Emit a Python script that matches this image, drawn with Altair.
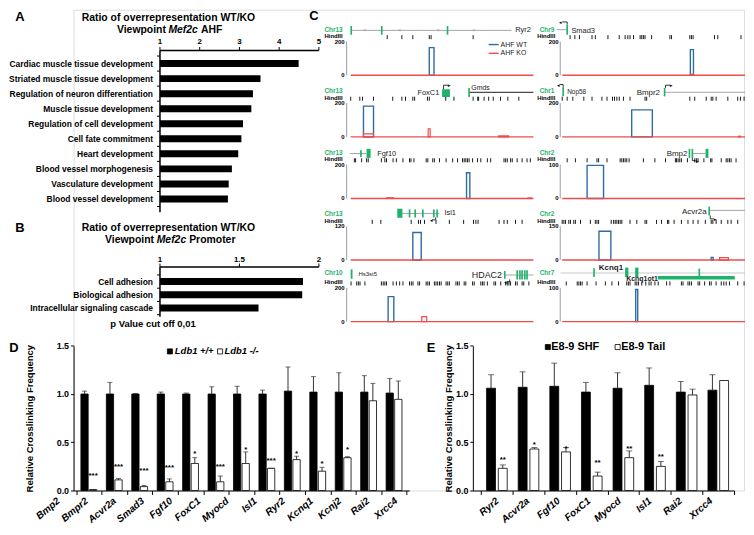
import altair as alt
import pandas as pd

FONT = "Liberation Sans"
BLUE = "#2f6ca3"
RED = "#ef4b4b"
GREEN = "#1fb26a"
GRAY = "#9b9b9b"
INK = "#222222"

# ---------------- Panel A ----------------
a_terms = ["Cardiac muscle tissue development", "Striated muscle tissue development",
           "Regulation of neuron differentiation", "Muscle tissue development",
           "Regulation of cell development", "Cell fate commitment", "Heart development",
           "Blood vessel morphogenesis", "Vasculature development", "Blood vessel development"]
a_ratio = [4.49, 3.53, 3.34, 3.30, 3.09, 3.05, 2.97, 2.81, 2.73, 2.71]
a_ticks = [1, 2, 3, 4, 5]
a_tick_labels = ["1", "2", "3", "4", "5"]

# ---------------- Panel B ----------------
b_terms = ["Cell adhesion", "Biological adhesion", "Intracellular signaling cascade"]
b_ratio = [1.90, 1.895, 1.62]
b_ticks = [1, 1.5, 2]
b_tick_labels = ["1", "1.5", "2"]

# ---------------- Panel C (4C tracks; u = 0..100 along each locus) ----------------
c_chr = {(0, 0): "Chr13", (1, 0): "Chr13", (2, 0): "Chr13", (3, 0): "Chr13", (4, 0): "Chr10",
         (0, 1): "Chr9", (1, 1): "Chr1", (2, 1): "Chr2", (3, 1): "Chr2", (4, 1): "Chr7"}
c_ymax = {(0, 0): 200, (1, 0): 200, (2, 0): 200, (3, 0): 120, (4, 0): 200,
          (0, 1): 200, (1, 1): 200, (2, 1): 100, (3, 1): 150, (4, 1): 100}

hind_r0_c0 = [20, 28, 34, 43, 44, 67]
hind_r1_c0 = [0, 5, 6.5, 12.5, 23, 28, 30, 34, 35, 42, 43, 52, 56.5, 67, 69.5, 70, 73, 75.5, 78, 82, 86, 92]
hind_r2_c0 = [2, 2.7, 6, 8.7, 9.6, 16.8, 18.7, 19.6, 23.2, 25, 28.6, 32.2, 33, 34.6, 41.3, 42.2, 44.9,
              45.8, 48.6, 52.2, 55.8, 58.5, 61.2, 62.1, 63, 63.9, 64.8, 66.7, 69.4, 71.2, 74.8, 76.6,
              83.9, 84.8, 85.7, 87.5, 88.4, 91.1, 93.8, 96.5, 98.3]
hind_r3_c0 = [11.8, 16.5, 33.1, 37.1, 38.2, 40.4, 46.7, 54, 61.8, 67.2, 68.5, 69.7, 81.2, 83.9, 85.7, 90.2, 93.8]
hind_r4_c0 = [0.2, 3.3, 4.2, 5.1, 7.8, 16.8, 17.8, 18.7, 19.6, 23.2, 25, 26.8, 28.6, 32.2, 33.2, 34.1,
              36.8, 37.7, 41.3, 42.2, 43.1, 45.8, 46.7, 47.6, 48.6, 49.5, 52.2, 53.1, 54, 57.6, 58.5,
              59.4, 62.1, 63, 66.7, 67.6, 71.2, 72.1, 73, 74.8, 78.4, 79.3, 82.1, 84.8, 85.7, 86.6,
              87.5, 90.2, 91.1, 93.8, 94.7, 97.5]
hind_r0_c1 = [4.3, 6.9, 9.4, 16.3, 18.1, 25, 31.2, 34.4, 35.9, 37.1, 39, 42.6, 43.5, 44.4, 45.3, 48.9,
              58.9, 59.8, 69.8, 70.7, 71.6, 83.3, 85.1, 97.8]
hind_r1_c1 = [0, 2.7, 5.8, 11.8, 16.3, 21.7, 24.5, 27.5, 28.6, 29.9, 31.2, 33.5, 37.1, 45.3, 46.2, 69.8,
              72.5, 78.8, 81.5, 82.4, 84.2, 90.6, 96, 97.5, 99.5]
hind_r2_c1 = [2.7, 7.2, 13.6, 19, 19.9, 24.5, 31.7, 32.6, 33.5, 34.4, 35.3, 36.6, 44.4, 50.7, 56.5, 61.9,
              62.5, 63.4, 64.3, 65.2, 68.5, 72.5, 73.4, 74.3, 77.5, 81.2, 81.9, 87, 89.7, 90.6, 91.5,
              92.4, 95.1]
hind_r3_c1 = [0, 0.9, 1.8, 3.6, 4.5, 6.3, 7.2, 10, 15.4, 18.1, 19, 19.9, 26.8, 28.1, 29, 29.9, 30.8,
              31.7, 32.6, 37.1, 40.8, 45.3, 46.2, 51.6, 54.3, 57.6, 58.3, 61.2, 65.2, 68.8, 71.6, 74.3,
              78.3, 81.5, 82.4, 84.2, 87, 90.6, 92.4, 96]
hind_r4_c1 = [2.2, 8.2, 9.1, 10, 10.9, 13.6, 18.5, 23.6, 27.2, 30.8, 35.3, 36.2, 37.1, 39.9, 40.8, 41.7,
              43.5, 45.7, 47.5, 48.6, 50.7, 52.5, 57.1, 58.9, 65.2, 66.1, 68.8, 69.7, 70.7, 74.3, 75.2,
              77.9, 80.6, 81.5, 84.2, 87, 88.4, 89.7, 91.5, 96, 99.5]
c_hind = {(0, 0): hind_r0_c0, (1, 0): hind_r1_c0, (2, 0): hind_r2_c0, (3, 0): hind_r3_c0, (4, 0): hind_r4_c0,
          (0, 1): hind_r0_c1, (1, 1): hind_r1_c1, (2, 1): hind_r2_c1, (3, 1): hind_r3_c1, (4, 1): hind_r4_c1}

# WT (AHF WT) and KO (AHF KO) interaction peaks: (start, end, reads)
c_wt = {(0, 0): [(43.0, 45.6, 164)], (1, 0): [(7.0, 12.5, 182)], (2, 0): [(63.4, 65.2, 152)],
        (3, 0): [(34.0, 38.6, 98)], (4, 0): [(20.5, 23.6, 148)], (0, 1): [(70.1, 71.8, 152)],
        (1, 1): [(38.0, 49.3, 160)], (2, 1): [(13.6, 22.6, 98)],
        (3, 1): [(20.1, 26.6, 128), (81.5, 82.6, 12)], (4, 1): [(40.2, 41.3, 95)]}
c_ko = {(1, 0): [(7.0, 12.5, 18), (42.4, 43.5, 48), (81.0, 86.4, 6)],
        (2, 0): [(19.6, 23.4, 4), (97.0, 99.0, 3)], (4, 0): [(38.9, 41.6, 30)],
        (0, 1): [(70.1, 71.8, 6)], (1, 1): [(96.5, 97.5, 4)], (3, 1): [(86.1, 90.9, 10.5)]}

# gene models
gene_lines = [  # row, col, u1, v1, u2, v2, colour, width
    (0, 0, 0, 1.33, 88, 1.33, GRAY, 0.9), (1, 0, 64.8, 1.32, 100, 1.32, "black", 0.9),
    (2, 0, -0.5, 1.33, 8.7, 1.33, GRAY, 0.9), (3, 0, 25.5, 1.38, 48.6, 1.38, GRAY, 0.9),
    (4, 0, 83.9, 1.38, 100, 1.38, GRAY, 0.9), (0, 1, -3, 1.35, 2.7, 1.35, GRAY, 0.9),
    (1, 1, 56, 1.32, 100, 1.32, GRAY, 0.9), (2, 1, 71.2, 1.33, 78.4, 1.33, GRAY, 0.9),
    (3, 1, 80.4, 1.47, 100, 1.47, GRAY, 0.9), (4, 1, -1, 1.44, 100, 1.44, "#c4c4c4", 0.9),
    (4, 1, 52.3, 1.30, 94.4, 1.30, GREEN, 3.5),
    # transcription start arrows
    (1, 0, 50.8, 1.41, 50.8, 1.53, "black", 0.8), (1, 0, 50.8, 1.53, 53.5, 1.53, "black", 0.8),
    (3, 0, 46.5, 1.26, 46.5, 1.19, "black", 0.8), (3, 0, 46.5, 1.19, 44.5, 1.19, "black", 0.8),
    (4, 0, 87, 1.25, 87, 1.18, "black", 0.8), (4, 0, 87, 1.18, 85.5, 1.18, "black", 0.8),
    (0, 1, 2.7, 1.5, 2.7, 1.58, "black", 0.8), (0, 1, 2.7, 1.58, 0, 1.58, "black", 0.8),
    (1, 1, 0.5, 1.45, 0.5, 1.55, "black", 0.8), (1, 1, 0.5, 1.55, -1.5, 1.55, "black", 0.8),
    (1, 1, 56.5, 1.45, 56.5, 1.53, "black", 0.8), (1, 1, 56.5, 1.53, 59, 1.53, "black", 0.8),
    (2, 1, 71.2, 1.2, 71.2, 1.12, "black", 0.8), (2, 1, 71.2, 1.12, 73, 1.12, "black", 0.8),
    (3, 1, 81, 1.32, 81, 1.22, "black", 0.8), (3, 1, 81, 1.22, 83, 1.22, "black", 0.8),
    # legend
    (0, 0, 75.5, 0.91, 81, 0.91, BLUE, 1.4), (0, 0, 75.5, 0.65, 81, 0.65, RED, 1.4),
]
arrow_tips = [  # row, col, u, v, glyph
    (1, 0, 54.2, 1.53, "▸"), (3, 0, 44.0, 1.19, "◂"), (4, 0, 84.6, 1.18, "◂"),
    (0, 1, -0.8, 1.58, "◂"), (1, 1, -2.3, 1.55, "◂"), (1, 1, 59.8, 1.53, "▸"),
    (2, 1, 73.8, 1.12, "▸"), (3, 1, 83.8, 1.22, "▸")]
exon_ticks = [  # row, col, u, v1, v2  (thin exons)
    (0, 0, 0.3, 1.2, 1.46), (0, 0, 17, 1.2, 1.46), (0, 0, 53, 1.2, 1.46), (1, 0, 64.8, 1.18, 1.45),
    (2, 0, 5.6, 1.23, 1.43), (3, 0, 32.2, 1.26, 1.5), (3, 0, 35.3, 1.26, 1.5), (3, 0, 39.5, 1.26, 1.5),
    (3, 0, 45.5, 1.26, 1.5), (3, 0, 47.3, 1.26, 1.5), (4, 0, 84.3, 1.27, 1.5), (4, 0, 91.1, 1.25, 1.52),
    (4, 0, 92.6, 1.25, 1.52), (4, 0, 93.8, 1.25, 1.52), (4, 0, 95.3, 1.25, 1.52), (4, 0, 96.5, 1.25, 1.52),
    (0, 1, 2.7, 1.2, 1.5), (1, 1, 0.5, 1.2, 1.45), (1, 1, 56, 1.2, 1.45), (2, 1, 69.6, 1.2, 1.47),
    (2, 1, 71.2, 1.2, 1.47), (3, 1, 80.4, 1.32, 1.58), (4, 1, 17.4, 1.32, 1.58), (4, 1, 75, 1.3, 1.57)]
exon_boxes = [  # row, col, u1, u2, v1, v2
    (1, 0, 50, 54.3, 1.18, 1.41), (2, 0, 8.7, 10.9, 1.2, 1.47), (3, 0, 25.5, 28.3, 1.25, 1.52),
    (4, 0, 0, 1.0, 1.27, 1.55), (2, 1, 78.4, 80, 1.2, 1.47), (4, 1, 34.4, 36.2, 1.32, 1.6),
    (4, 1, 39.9, 41.7, 1.32, 1.6)]
gene_text = [  # row, col, u, v, text, size, align, weight
    (0, 0, 90, 1.35, "Ryr2", 7.5, "left", "normal"), (1, 0, 48.5, 1.29, "FoxC1", 7.5, "right", "normal"),
    (1, 0, 66, 1.44, "Gmds", 7, "left", "normal"), (2, 0, 14.5, 1.33, "Fgf10", 7.5, "left", "normal"),
    (3, 0, 51.3, 1.38, "Isl1", 7.5, "left", "normal"), (4, 0, 4.3, 1.41, "Hs3st5", 6, "left", "normal"),
    (4, 0, 82.8, 1.38, "HDAC2", 9, "right", "normal"), (0, 1, 5.0, 1.32, "Smad3", 7.5, "left", "normal"),
    (1, 1, 2.7, 1.32, "Nop58", 6.5, "left", "normal"), (1, 1, 53.5, 1.30, "Bmpr2", 8, "right", "normal"),
    (2, 1, 68.5, 1.32, "Bmp2", 8, "right", "normal"), (3, 1, 79, 1.41, "Acvr2a", 8, "right", "normal"),
    (4, 1, 20, 1.6, "Kcnq1", 8, "left", "bold"), (4, 1, 35, 1.25, "Kcnq1ot1", 7, "left", "bold"),
    (0, 0, 82, 0.91, "AHF WT", 7, "left", "normal"), (0, 0, 82, 0.65, "AHF KO", 7, "left", "normal")]
ryr2_arrowheads = [7.6, 26.6, 47.8, 67.4]

# ---------------- Panel D ----------------
d_genes = ["Bmp2", "Bmpr2", "Acvr2a", "Smad3", "Fgf10", "FoxC1", "Myocd", "Isl1", "Ryr2",
           "Kcnq1", "Kcnj2", "Rai2", "Xrcc4"]
d_wt = [1.00, 1.00, 1.00, 1.00, 1.00, 1.00, 1.00, 1.00, 1.03, 1.02, 1.02, 1.02, 1.01]
d_wt_err = [0.03, 0.12, 0.005, 0.02, 0.01, 0.075, 0.08, 0.04, 0.25, 0.16, 0.20, 0.17, 0.15]
d_ko = [0.01, 0.11, 0.04, 0.09, 0.28, 0.09, 0.28, 0.23, 0.32, 0.20, 0.34, 0.93, 0.945]
d_ko_err = [0.0, 0.015, 0.012, 0.03, 0.06, 0.06, 0.12, 0.0, 0.035, 0.04, 0.01, 0.18, 0.19]
d_stars = ["***", "***", "***", "***", "*", "***", "*", "***", "*", "*", "*", "", ""]
d_star_y = [0.15, 0.24, 0.20, 0.23, 0.38, 0.24, 0.42, 0.31, 0.38, 0.27, 0.42, 0, 0]

# ---------------- Panel E ----------------
e_genes = ["Ryr2", "Acvr2a", "Fgf10", "FoxC1", "Myocd", "Isl1", "Rai2", "Xrcc4"]
e_shf = [1.06, 1.07, 1.08, 1.02, 1.06, 1.09, 1.02, 1.04]
e_shf_err = [0.14, 0.16, 0.24, 0.10, 0.16, 0.18, 0.11, 0.16]
e_tail = [0.23, 0.43, 0.40, 0.15, 0.34, 0.25, 0.99, 1.14]
e_tail_err = [0.035, 0.015, 0.045, 0.04, 0.07, 0.05, 0.06, 0.0]
e_stars = ["**", "*", "*", "**", "**", "**", "", ""]
e_star_y = [0.32, 0.475, 0.43, 0.28, 0.435, 0.35, 0, 0]

ONE = pd.DataFrame({"k": [0]})
W, H = 675, 484          # one shared canvas; each panel gets its own scale ranges
DT = 338.3               # top of the D/E plot areas


def note(text, x, y, size, weight="bold", style="normal", align="center", color="black"):
    return alt.Chart(ONE).mark_text(text=text, font=FONT, fontSize=size, fontWeight=weight,
                                    fontStyle=style, align=align, baseline="middle",
                                    color=color).encode(x=alt.value(x), y=alt.value(y))


def square(x, y, fill):
    return alt.Chart(ONE).mark_square(size=26, fill=fill, stroke="black", strokeWidth=0.8,
                                      opacity=1).encode(x=alt.value(x), y=alt.value(y))


# ======================= A + B =======================
def go_panel(terms, ratios, ticks, tick_labels, xdom, yrange, axis_y, lab_y, vline_end):
    n = len(terms)
    df = pd.DataFrame({"term": terms, "ratio": ratios, "idx": list(range(n)), "base": [xdom[0]] * n})
    xs = alt.Scale(domain=xdom, range=[87, 247], nice=False, zero=False)
    ys = alt.Scale(domain=[-0.5, n - 0.5], range=yrange, nice=False, zero=False)
    bars = alt.Chart(df).mark_bar(color="black", size=7).encode(
        x=alt.X("base:Q", scale=xs, axis=None), x2="ratio", y=alt.Y("idx:Q", scale=ys, axis=None))
    labels = alt.Chart(df).mark_text(align="right", baseline="middle", dx=-7, font=FONT, fontSize=8.5,
                                     fontWeight="bold", color="black").encode(
        x=alt.X("base:Q", scale=xs, axis=None), y=alt.Y("idx:Q", scale=ys, axis=None), text="term:N")
    tdf = pd.DataFrame({"t": ticks, "lab": tick_labels})
    tmarks = alt.Chart(tdf).mark_rule(color="black", strokeWidth=1).encode(
        x=alt.X("t:Q", scale=xs, axis=None), y=alt.value(axis_y - 3.5), y2=alt.value(axis_y))
    tlabs = alt.Chart(tdf).mark_text(font=FONT, fontSize=8, fontWeight="bold", baseline="middle",
                                     color="black").encode(
        x=alt.X("t:Q", scale=xs, axis=None), y=alt.value(lab_y), text="lab:N")
    edf = pd.DataFrame({"lo": [xdom[0]], "hi": [xdom[1]]})
    hline = alt.Chart(edf).mark_rule(color="black", strokeWidth=1.5).encode(
        x=alt.X("lo:Q", scale=xs, axis=None), x2="hi", y=alt.value(axis_y))
    vline = alt.Chart(edf).mark_rule(color="black", strokeWidth=1.5).encode(
        x=alt.X("lo:Q", scale=xs, axis=None), y=alt.value(axis_y), y2=alt.value(vline_end))
    bdf = pd.DataFrame({"b": [i - 0.5 for i in range(n + 1)]})
    yt = alt.Chart(bdf).mark_rule(color="black", strokeWidth=1).encode(
        x=alt.value(84), x2=alt.value(87), y=alt.Y("b:Q", scale=ys, axis=None))
    return alt.layer(bars, labels, tmarks, tlabs, hline, vline, yt)


panelA = go_panel(a_terms, a_ratio, a_ticks, a_tick_labels, [1, 5], [41.6, 203.1], 41, 32, 204)
panelB = go_panel(b_terms, b_ratio, b_ticks, b_tick_labels, [1, 2], [262, 312], 259, 251.5, 309)

ab_notes = [
    note("A", -54, 7.5, 13),
    note("Ratio of overrepresentation WT/KO", 95.5, 8, 10.5),
    note("Viewpoint", 93, 20, 10.5, align="right"),
    note("Mef2c", 95.5, 20, 10.5, style="italic", align="left"),
    note("AHF", 128.2, 20, 10.5, align="left"),
    note("B", -54, 220, 13),
    note("Ratio of overrepresentation WT/KO", 95.5, 220, 10.5),
    note("Viewpoint", 81, 231.5, 10.5, align="right"),
    note("Mef2c", 83.7, 231.5, 10.5, style="italic", align="left"),
    note("Promoter", 116.4, 231.5, 10.5, align="left"),
    note("p Value cut off 0,01", 80, 316, 9.5),
    note("C", 242, 6, 13),
]

# ======================= C =======================
COL_OFF = 115.76
ROW_OFF = 1.8235
xC = alt.Scale(domain=[-9.24, 215.22], range=[262, 675], nice=False, zero=False)
yC = alt.Scale(domain=[-8.0, 1.941], range=[338, 0], nice=False, zero=False)


def X(u, c):
    return u + c * COL_OFF


def Y(v, r):
    return v - r * ROW_OFF


def cx(f):
    return alt.X(f + ":Q", scale=xC, axis=None)


def cy(f):
    return alt.Y(f + ":Q", scale=yC, axis=None)


axis_u = [-2.2, -1.1]
numlab_u = [-3.3, -2.0]
hindlab_u = [-4.4, -3.8]
chrlab_u = [-4.4, -4.3]

r_axis, r_tick, r_base, r_wt, r_ko, r_side = [], [], [], [], [], []
for (r, c), ymax in c_ymax.items():
    r_axis.append({"x": X(axis_u[c], c), "y": Y(0, r), "y2": Y(1, r)})
    r_base.append({"x": X(0, c), "x2": X(100, c), "y": Y(0, r)})
    for u in c_hind[(r, c)]:
        r_tick.append({"x": X(u, c), "y": Y(1.07, r), "y2": Y(1.19, r)})
    for (u1, u2, n) in c_wt.get((r, c), []):
        r_wt.append({"x": X(u1, c), "x2": X(u2, c), "y": Y(0, r), "y2": Y(n / ymax, r)})
    for (u1, u2, n) in c_ko.get((r, c), []):
        r_ko.append({"x": X(u1, c), "x2": X(u2, c), "y": Y(0, r), "y2": Y(n / ymax, r)})
    chr_v = 1.43 if r == 4 else 1.35
    r_side += [
        {"x": X(numlab_u[c], c), "y": Y(1.0, r), "t": str(ymax), "col": "black", "fs": 6},
        {"x": X(numlab_u[c], c), "y": Y(0.0, r), "t": "0", "col": "black", "fs": 6},
        {"x": X(hindlab_u[c], c), "y": Y(1.16, r), "t": "HindIII", "col": "black", "fs": 6},
        {"x": X(chrlab_u[c], c), "y": Y(chr_v, r), "t": c_chr[(r, c)], "col": GREEN, "fs": 6.5},
    ]

df_seg = pd.DataFrame([{"x": X(u1, c), "y": Y(v1, r), "x2": X(u2, c), "y2": Y(v2, r), "col": col, "w": w}
                       for (r, c, u1, v1, u2, v2, col, w) in gene_lines])
df_tip = pd.DataFrame([{"x": X(u, c), "y": Y(v, r), "g": g} for (r, c, u, v, g) in arrow_tips])
df_exon = pd.DataFrame([{"x": X(u - 0.45, c), "x2": X(u + 0.45, c), "y": Y(v1, r), "y2": Y(v2, r)}
                        for (r, c, u, v1, v2) in exon_ticks] +
                       [{"x": X(u1, c), "x2": X(u2, c), "y": Y(v1, r), "y2": Y(v2, r)}
                        for (r, c, u1, u2, v1, v2) in exon_boxes])
df_arrowhead = pd.DataFrame({"x": [X(u, 0) for u in ryr2_arrowheads], "y": [Y(1.33, 0)] * len(ryr2_arrowheads)})

c_layers = [
    alt.Chart(pd.DataFrame(r_axis)).mark_rule(color=GRAY, strokeWidth=1).encode(x=cx("x"), y=cy("y"), y2="y2"),
    alt.Chart(pd.DataFrame(r_tick)).mark_rule(color="black", strokeWidth=0.9).encode(x=cx("x"), y=cy("y"), y2="y2"),
    alt.Chart(df_seg).mark_rule().encode(x=cx("x"), y=cy("y"), x2="x2", y2="y2",
                                         color=alt.Color("col:N", scale=None),
                                         strokeWidth=alt.StrokeWidth("w:Q", scale=None)),
    alt.Chart(df_exon).mark_rect(color=GREEN).encode(x=cx("x"), x2="x2", y=cy("y"), y2="y2"),
    alt.Chart(df_tip).mark_text(color="black", fontSize=5, baseline="middle").encode(
        x=cx("x"), y=cy("y"), text="g:N"),
    alt.Chart(df_arrowhead).mark_text(text="<", color=GRAY, fontSize=6, baseline="middle",
                                      font=FONT).encode(x=cx("x"), y=cy("y")),
    alt.Chart(pd.DataFrame(r_side)).mark_text(align="right", baseline="middle", fontWeight="bold",
                                              font=FONT).encode(
        x=cx("x"), y=cy("y"), text="t:N", color=alt.Color("col:N", scale=None),
        size=alt.Size("fs:Q", scale=None)),
]
for al in ["left", "right"]:
    for wt in ["normal", "bold"]:
        rows = [{"x": X(u, c), "y": Y(v, r), "t": t, "fs": s}
                for (r, c, u, v, t, s, a, w) in gene_text if a == al and w == wt]
        if rows:
            c_layers.append(alt.Chart(pd.DataFrame(rows)).mark_text(
                align=al, baseline="middle", fontWeight=wt, font=FONT, color=INK).encode(
                x=cx("x"), y=cy("y"), text="t:N", size=alt.Size("fs:Q", scale=None)))
c_layers += [
    alt.Chart(pd.DataFrame(r_wt)).mark_rect(filled=False, color=BLUE, strokeWidth=1.4).encode(
        x=cx("x"), x2="x2", y=cy("y"), y2="y2"),
    alt.Chart(pd.DataFrame(r_ko)).mark_rect(filled=False, color=RED, strokeWidth=1.2).encode(
        x=cx("x"), x2="x2", y=cy("y"), y2="y2"),
    alt.Chart(pd.DataFrame(r_base)).mark_rule(color=RED, strokeWidth=1.4).encode(
        x=cx("x"), x2="x2", y=cy("y")),
]
panelC = alt.layer(*c_layers)

# ======================= D and E =======================
x_axis = alt.Axis(labels=False, title=None, tickBand="extent", tickSize=4, tickColor="black",
                  domainColor="black", grid=False, orient="bottom")


def y_axis(pad, offset=0):
    return alt.Axis(values=[0, 0.5, 1.0, 1.5], format=".1f", title="Relative Crosslinking Frequency",
                    titleFont=FONT, titleFontSize=9.6, titleFontWeight="bold", titleColor="black",
                    titlePadding=pad, labelFont=FONT, labelFontSize=9, labelFontWeight="bold",
                    labelColor="black", labelPadding=2, tickSize=3, tickColor="black",
                    domainColor="black", grid=False, offset=offset, orient="left")


def bar_panel(genes, v1, e1, v2, e2, stars, star_y, xs, os, ys, yaxis, cap):
    rows = []
    for i, g in enumerate(genes):
        rows.append({"gene": g, "grp": "WT", "val": v1[i], "up": v1[i] + e1[i]})
        rows.append({"gene": g, "grp": "KO", "val": v2[i], "up": v2[i] + e2[i]})
    df = pd.DataFrame(rows)
    sdf = pd.DataFrame([{"gene": g, "grp": "KO", "sy": star_y[i], "star": stars[i]}
                        for i, g in enumerate(genes) if stars[i]])
    ex = alt.X("gene:N", scale=xs, axis=x_axis)
    eo = alt.XOffset("grp:N", scale=os)
    bars = alt.Chart(df).mark_bar(stroke="black", strokeWidth=0.8).encode(
        x=ex, xOffset=eo, y=alt.Y("val:Q", scale=ys, axis=yaxis),
        fill=alt.Fill("grp:N", scale=alt.Scale(domain=["WT", "KO"], range=["black", "white"]), legend=None))
    err = alt.Chart(df).mark_rule(color="#333333", strokeWidth=1).encode(
        x=ex, xOffset=eo, y=alt.Y("val:Q", scale=ys, axis=yaxis), y2="up")
    caps = alt.Chart(df).mark_tick(color="#333333", thickness=1, size=cap).encode(
        x=ex, xOffset=eo, y=alt.Y("up:Q", scale=ys, axis=yaxis))
    st = alt.Chart(sdf).mark_text(font=FONT, fontSize=8, fontWeight="bold", baseline="middle",
                                  color="black").encode(
        x=ex, xOffset=eo, y=alt.Y("sy:Q", scale=ys, axis=yaxis), text="star:N")
    return alt.layer(bars, err, caps, st)


def gene_labels(genes, rng):
    df = pd.DataFrame({"gene": genes, "i": list(range(len(genes)))})
    return alt.Chart(df).mark_text(align="right", baseline="middle", angle=320, font=FONT, fontSize=10,
                                   fontWeight="bold", fontStyle="italic", color="black").encode(
        x=alt.X("i:Q", scale=alt.Scale(domain=[0, len(genes) - 1], range=rng, nice=False, zero=False),
                axis=None),
        y=alt.value(DT + 155), text="gene:N")


xD = alt.Scale(domain=d_genes, range=[0, 338], paddingInner=0, paddingOuter=0.1)
oD = alt.Scale(domain=["WT", "KO"], paddingInner=0.15, paddingOuter=0.56)
yD = alt.Scale(domain=[0, 1.5], range=[H, DT], nice=False, zero=True)
panelD = bar_panel(d_genes, d_wt, d_wt_err, d_ko, d_ko_err, d_stars, d_star_y, xD, oD, yD, y_axis(22), 5)
d_notes = [
    gene_labels(d_genes, [-15, 325]),
    note("D", -60, DT + 2, 13),
    square(97, DT + 5.7, "black"),
    note("Ldb1 +/+", 102, DT + 5.7, 9.5, style="italic", align="left"),
    square(147.5, DT + 5.7, "white"),
    note("Ldb1 -/-", 152, DT + 5.7, 9.5, style="italic", align="left"),
]

EX = 402   # left edge of the E plot area on the canvas
xE = alt.Scale(domain=e_genes, range=[EX, W - 10], paddingInner=0, paddingOuter=0.13, align=1)
oE = alt.Scale(domain=["WT", "KO"], paddingInner=0.24, paddingOuter=0.47)
yE = alt.Scale(domain=[0, 1.5], range=[H, DT], nice=False, zero=True)
panelE = bar_panel(e_genes, e_shf, e_shf_err, e_tail, e_tail_err, e_stars, e_star_y, xE, oE, yE,
                   y_axis(2, -EX), 6)
e_notes = [
    gene_labels(e_genes, [EX + 25, EX + 240]),
    note("E", EX - 42, DT + 2, 13),
    square(EX + 75.5, DT + 1.3, "black"),
    note("E8-9 SHF", EX + 79, DT + 1.3, 11, align="left"),
    square(EX + 145.8, DT + 1.3, "white"),
    note("E8-9 Tail", EX + 149.3, DT + 1.3, 11, align="left"),
]

chart = alt.layer(
    panelA, panelB, panelC, panelD, panelE, *ab_notes, *d_notes, *e_notes
).resolve_scale(
    x="independent", y="independent", xOffset="independent"
).properties(width=W, height=H, padding=0).configure_view(strokeWidth=0).configure(font=FONT)

chart.save("out.html", embed_options={"renderer": "svg", "actions": False})
